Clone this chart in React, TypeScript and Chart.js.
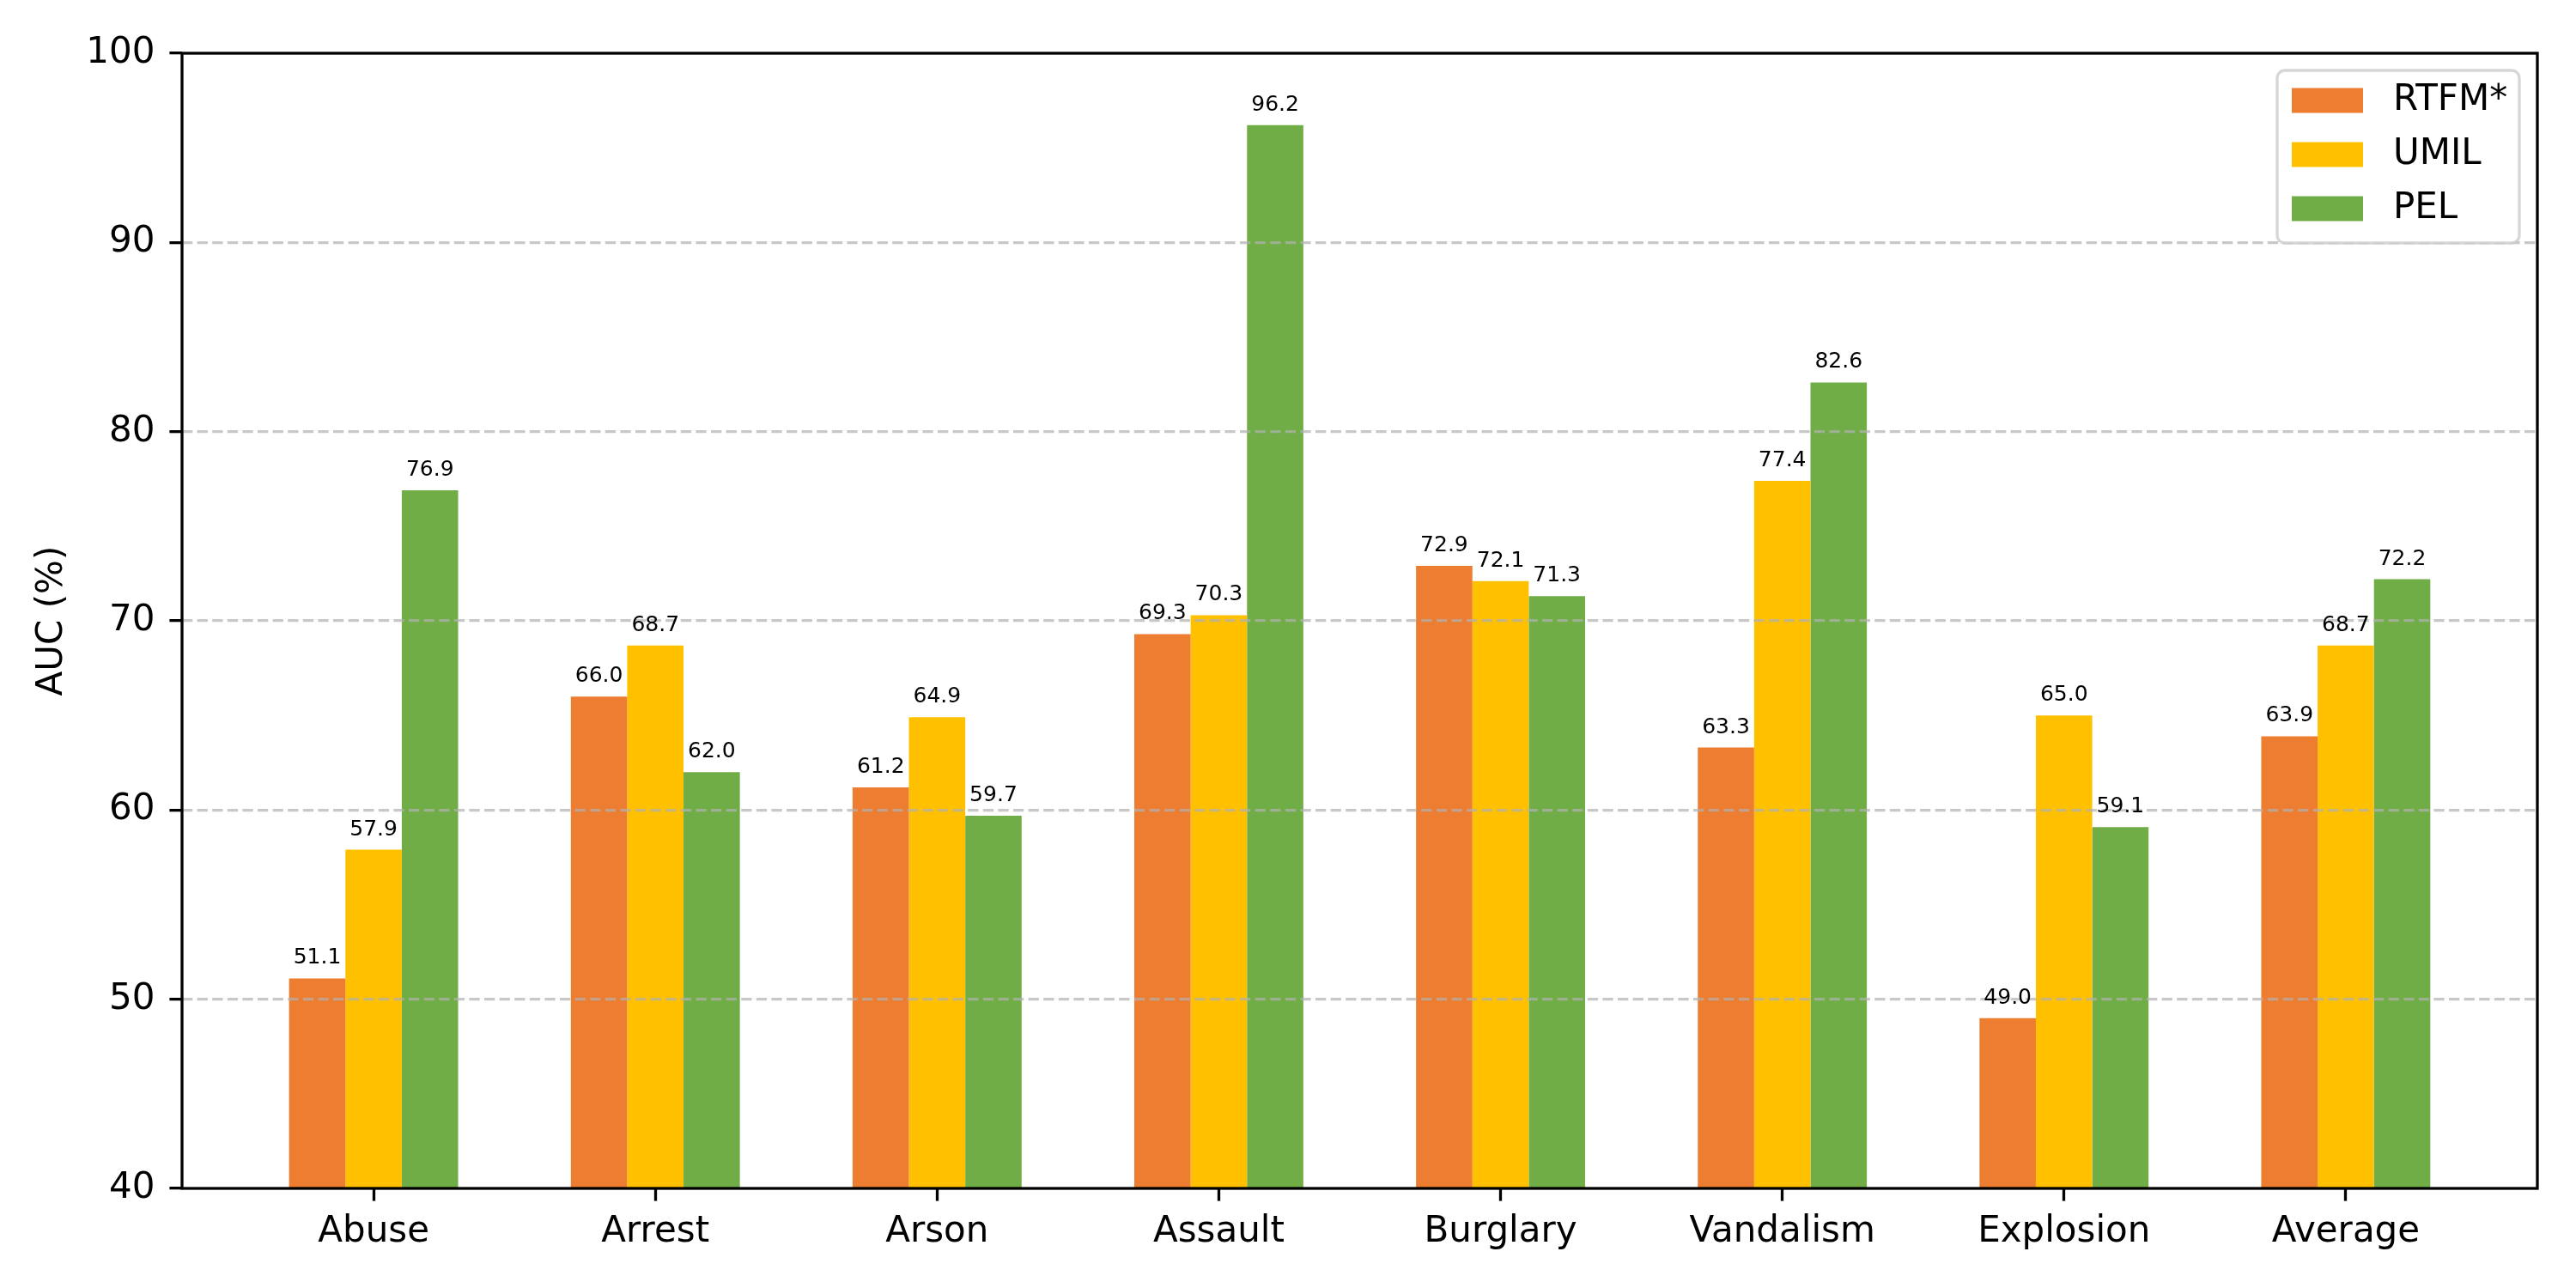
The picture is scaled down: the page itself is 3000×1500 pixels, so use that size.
import React, { useEffect, useRef } from "react";
import { Chart, registerables } from "chart.js";

Chart.register(...registerables);

const categories = ["Abuse", "Arrest", "Arson", "Assault", "Burglary", "Vandalism", "Explosion", "Average"];
const rtfm = [51.1, 66.0, 61.2, 69.3, 72.9, 63.3, 49.0, 63.9];
const umil = [57.9, 68.7, 64.9, 70.3, 72.1, 77.4, 65.0, 68.7];
const pel = [76.9, 62.0, 59.7, 96.2, 71.3, 82.6, 59.1, 72.2];
const seriesNames = ["RTFM*", "UMIL", "PEL"];
const seriesColors = ["#ED7D31", "#FFC000", "#70AD47"];
const yTicks = [40, 50, 60, 70, 80, 90, 100];

const FONT = "DejaVu Sans";
const LW = 3.3; // 0.8pt at 300 dpi

// numbers above each bar
const valueLabels = {
  id: "valueLabels",
  afterDraw(chart: any) {
    const { ctx } = chart;
    ctx.save();
    ctx.font = `25px "${FONT}"`;
    ctx.fillStyle = "#000";
    ctx.textAlign = "center";
    ctx.textBaseline = "alphabetic";
    chart.data.datasets.forEach((ds: any, di: number) => {
      chart.getDatasetMeta(di).data.forEach((bar: any, i: number) => {
        ctx.fillText(ds.data[i].y.toFixed(1), bar.x, bar.y - 17);
      });
    });
    ctx.restore();
  },
};

// full box around the plot, like matplotlib spines
const frame = {
  id: "frame",
  afterDraw(chart: any) {
    const { ctx, chartArea: a } = chart;
    ctx.save();
    ctx.strokeStyle = "#000";
    ctx.lineWidth = LW;
    ctx.strokeRect(a.left, a.top, a.right - a.left, a.bottom - a.top);
    ctx.restore();
  },
};

// legend inside the upper right corner
const boxLegend = {
  id: "boxLegend",
  afterDraw(chart: any) {
    const { ctx, chartArea: a } = chart;
    const w = 282;
    const h = 201;
    const x = a.right - 21 - w;
    const y = a.top + 20;
    ctx.save();
    ctx.beginPath();
    ctx.roundRect(x, y, w, h, 9);
    ctx.fillStyle = "rgba(255,255,255,0.8)";
    ctx.fill();
    ctx.strokeStyle = "rgba(204,204,204,0.8)";
    ctx.lineWidth = LW;
    ctx.stroke();
    ctx.font = `42px "${FONT}"`;
    ctx.textBaseline = "middle";
    ctx.textAlign = "left";
    seriesNames.forEach((name, i) => {
      const cy = y + 35 + i * 63;
      ctx.fillStyle = seriesColors[i];
      ctx.fillRect(x + 17, cy - 14.5, 83, 29);
      ctx.fillStyle = "#000";
      ctx.fillText(name, x + 135, cy);
    });
    ctx.restore();
  },
};

const App = () => {
  const chartRef = useRef<HTMLCanvasElement>(null);

  useEffect(() => {
    Chart.defaults.font.family = FONT;
    const ctx = chartRef.current!.getContext("2d")!;
    const series = [rtfm, umil, pel];
    const myChart = new Chart(ctx, {
      type: "bar",
      data: {
        datasets: series.map((values, s) => ({
          label: seriesNames[s],
          data: values.map((v, i) => ({ x: i, y: v })),
          backgroundColor: seriesColors[s],
          borderWidth: 0,
          categoryPercentage: 0.6,
          barPercentage: 1.0,
        })),
      },
      options: {
        responsive: false,
        devicePixelRatio: 1,
        animation: false,
        layout: { padding: { top: 62, right: 45, left: 0, bottom: 0 } },
        plugins: {
          legend: { display: false },
          tooltip: { enabled: false },
        },
        scales: {
          x: {
            type: "linear",
            offset: false,
            min: -0.68,
            max: categories.length - 1 + 0.68,
            afterBuildTicks: (scale: any) => {
              scale.ticks = categories.map((_, i) => ({ value: i }));
            },
            afterFit: (scale: any) => {
              scale.height = 116;
            },
            border: { display: false },
            grid: {
              offset: false,
              drawOnChartArea: false,
              drawTicks: true,
              tickLength: 14.6,
              tickWidth: LW,
              tickColor: "#000",
            },
            ticks: {
              autoSkip: false,
              maxRotation: 0,
              padding: 11,
              color: "#000",
              font: { size: 42, family: FONT },
              callback: (value: any) => categories[value] ?? "",
            },
          },
          y: {
            min: 40,
            max: 100,
            afterBuildTicks: (scale: any) => {
              scale.ticks = yTicks.map((v) => ({ value: v }));
            },
            afterFit: (scale: any) => {
              scale.width = 212;
            },
            border: { display: false, dash: [12.3, 5.3] },
            grid: {
              z: 1,
              lineWidth: LW,
              color: (c: any) =>
                c.tick && (c.tick.value === 40 || c.tick.value === 100)
                  ? "rgba(0,0,0,0)"
                  : "rgba(176,176,176,0.7)",
              drawTicks: true,
              tickLength: 14.6,
              tickWidth: LW,
              tickColor: "#000",
              tickBorderDash: [],
            },
            ticks: {
              padding: 17,
              color: "#000",
              font: { size: 42, family: FONT },
            },
            title: {
              display: true,
              text: "AUC (%)",
              color: "#000",
              font: { size: 42, family: FONT },
              padding: { top: 36, bottom: 0 },
            },
          },
        },
      },
      plugins: [frame, valueLabels, boxLegend],
    } as any);

    return () => {
      myChart.destroy();
    };
  }, []);

  return (
    <div style={{ position: "absolute", left: 0, top: 0, width: 3000, height: 1500, background: "#fff" }}>
      <canvas ref={chartRef} width={3000} height={1500} style={{ display: "block", width: 3000, height: 1500 }}></canvas>
    </div>
  );
};

export default App;
